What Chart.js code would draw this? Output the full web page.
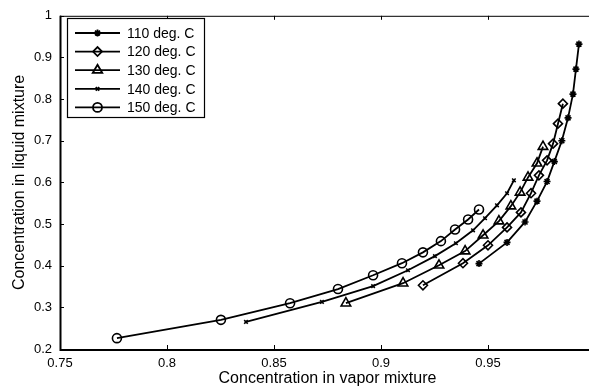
<!DOCTYPE html>
<html>
<head>
<meta charset="utf-8">
<script src="https://cdn.jsdelivr.net/npm/chart.js@4.4.0/dist/chart.umd.min.js"></script>
<style>
    html, body { margin: 0; padding: 0; background: #fff; overflow: hidden; }
    #wrap { position: absolute; left: 0; top: 0; width: 620px; height: 388px; }
</style>
</head>
<body>
<div id="wrap"><canvas id="chart"></canvas></div>
<script>
// ── data ──
const seriesNames = ['110 deg. C', '120 deg. C', '130 deg. C', '140 deg. C', '150 deg. C'];

const x110 = [0.9458, 0.9589, 0.9673, 0.9729, 0.9776, 0.9810, 0.9845, 0.9874, 0.9897, 0.9911, 0.9925];
const y110 = [0.405, 0.456, 0.505, 0.555, 0.602, 0.650, 0.700, 0.755, 0.812, 0.872, 0.932];

const x120 = [0.9196, 0.9383, 0.9500, 0.9589, 0.9654, 0.9701, 0.9738, 0.9776, 0.9804, 0.9827, 0.9850];
const y120 = [0.353, 0.406, 0.449, 0.492, 0.528, 0.574, 0.617, 0.653, 0.693, 0.741, 0.789];

const x130 = [0.8836, 0.9103, 0.9271, 0.9393, 0.9477, 0.9551, 0.9607, 0.9650, 0.9687, 0.9729, 0.9757];
const y130 = [0.310, 0.358, 0.401, 0.435, 0.473, 0.507, 0.543, 0.576, 0.612, 0.646, 0.686];

const x140 = [0.8369, 0.8724, 0.8963, 0.9126, 0.9252, 0.9350, 0.9430, 0.9486, 0.9542, 0.9589, 0.9621];
const y140 = [0.265, 0.313, 0.351, 0.389, 0.423, 0.454, 0.485, 0.514, 0.545, 0.574, 0.605];

const x150 = [0.7766, 0.8252, 0.8575, 0.8799, 0.8963, 0.9098, 0.9196, 0.9280, 0.9346, 0.9407, 0.9458];
const y150 = [0.226, 0.270, 0.310, 0.344, 0.377, 0.406, 0.432, 0.459, 0.487, 0.511, 0.535];

const xTicks = [0.75, 0.8, 0.85, 0.9, 0.95, 1];
const yTicks = [0.2, 0.3, 0.4, 0.5, 0.6, 0.7, 0.8, 0.9, 1];

// marker look, MATLAB style
const markers = [
    { style: 'star', radius: 3.5 },
    { style: 'rectRot', radius: 4.5 },
    { style: 'triangle', radius: 5.5 },
    { style: 'crossRot', radius: 2.5 },
    { style: 'circle', radius: 4.5 }
];

const FONT = "'Liberation Sans', Arial, sans-serif";
const xs = [x110, x120, x130, x140, x150];
const ys = [y110, y120, y130, y140, y150];

const datasets = seriesNames.map((name, i) => ({
    label: name,
    data: xs[i].map((x, k) => ({ x: x, y: ys[i][k] })),
    borderColor: '#000',
    borderWidth: 1.8,
    pointStyle: markers[i].style,
    pointRadius: markers[i].radius,
    pointBorderColor: '#000',
    pointBackgroundColor: 'rgba(0,0,0,0)',
    pointBorderWidth: 1.6,
    tension: 0,
    fill: false
}));

function fmt(v) { return String(+v.toFixed(2)); }

// box, inward ticks and the legend inside the axes
const framePlugin = {
    id: 'frame',
    afterDraw(chart) {
        const { ctx, chartArea: a, scales } = chart;
        ctx.save();
        ctx.strokeStyle = '#000';
        ctx.lineWidth = 1;
        ctx.strokeRect(a.left + 0.5, a.top + 0.5, a.right - a.left, a.bottom - a.top);
        // heavier bottom and left axis lines
        ctx.lineWidth = 2;
        ctx.beginPath();
        ctx.moveTo(a.left + 0.5, a.top); ctx.lineTo(a.left + 0.5, a.bottom + 1);
        ctx.lineTo(a.right, a.bottom + 1);
        ctx.stroke();

        ctx.lineWidth = 1;
        ctx.beginPath();
        xTicks.forEach(v => {
            const px = Math.round(scales.x.getPixelForValue(v)) + 0.5;
            ctx.moveTo(px, a.bottom); ctx.lineTo(px, a.bottom - 4);
            ctx.moveTo(px, a.top); ctx.lineTo(px, a.top + 4);
        });
        yTicks.forEach(v => {
            const py = Math.round(scales.y.getPixelForValue(v)) + 0.5;
            ctx.moveTo(a.left, py); ctx.lineTo(a.left + 4, py);
            ctx.moveTo(a.right, py); ctx.lineTo(a.right - 4, py);
        });
        ctx.stroke();

        // legend
        const lx = 67, ly = 18, lw = 137, lh = 99;
        ctx.fillStyle = '#fff';
        ctx.fillRect(lx, ly, lw, lh);
        ctx.lineWidth = 1.2;
        ctx.strokeRect(lx + 0.5, ly + 0.5, lw, lh);
        ctx.font = '14px ' + FONT;
        ctx.textBaseline = 'middle';
        ctx.textAlign = 'left';
        seriesNames.forEach((name, i) => {
            const y = 33 + i * 18.6;
            ctx.strokeStyle = '#000';
            ctx.lineWidth = 1.8;
            ctx.beginPath();
            ctx.moveTo(75, y); ctx.lineTo(120, y);
            ctx.stroke();
            ctx.fillStyle = 'rgba(0,0,0,0)';
            Chart.helpers.drawPoint(ctx, {
                pointStyle: markers[i].style,
                radius: markers[i].radius,
                borderWidth: 1.6,
                rotation: 0
            }, 97.5, y);
            ctx.fillStyle = '#000';
            ctx.fillText(name, 127, y + 1);
        });
        ctx.restore();
    }
};

new Chart(document.getElementById('chart'), {
    type: 'line',
    data: { datasets: datasets },
    options: {
        responsive: true,
        maintainAspectRatio: false,
        animation: false,
        layout: { padding: { left: 0, top: 15, right: 25, bottom: 0 } },
        plugins: {
            legend: { display: false },
            tooltip: { enabled: false }
        },
        scales: {
            x: {
                type: 'linear',
                min: 0.75,
                max: 1,
                afterBuildTicks: s => { s.ticks = xTicks.map(v => ({ value: v })); },
                afterFit: s => { s.height = 39; },
                grid: { display: false, drawTicks: false },
                border: { display: false },
                ticks: { color: '#000', padding: 7, maxRotation: 0, font: { family: FONT, size: 13 }, callback: fmt },
                title: { display: true, text: 'Concentration in vapor mixture', color: '#000',
                         font: { family: FONT, size: 16 }, padding: { top: 0, bottom: 0 } }
            },
            y: {
                type: 'linear',
                min: 0.2,
                max: 1,
                afterBuildTicks: s => { s.ticks = yTicks.map(v => ({ value: v })); },
                afterFit: s => { s.width = 60; },
                grid: { display: false, drawTicks: false },
                border: { display: false },
                ticks: { color: '#000', padding: 8, font: { family: FONT, size: 13 }, callback: fmt },
                title: { display: true, text: 'Concentration in liquid mixture', color: '#000',
                         font: { family: FONT, size: 16 }, padding: { top: 10, bottom: 0 } }
            }
        }
    },
    plugins: [framePlugin]
});
</script>
</body>
</html>
